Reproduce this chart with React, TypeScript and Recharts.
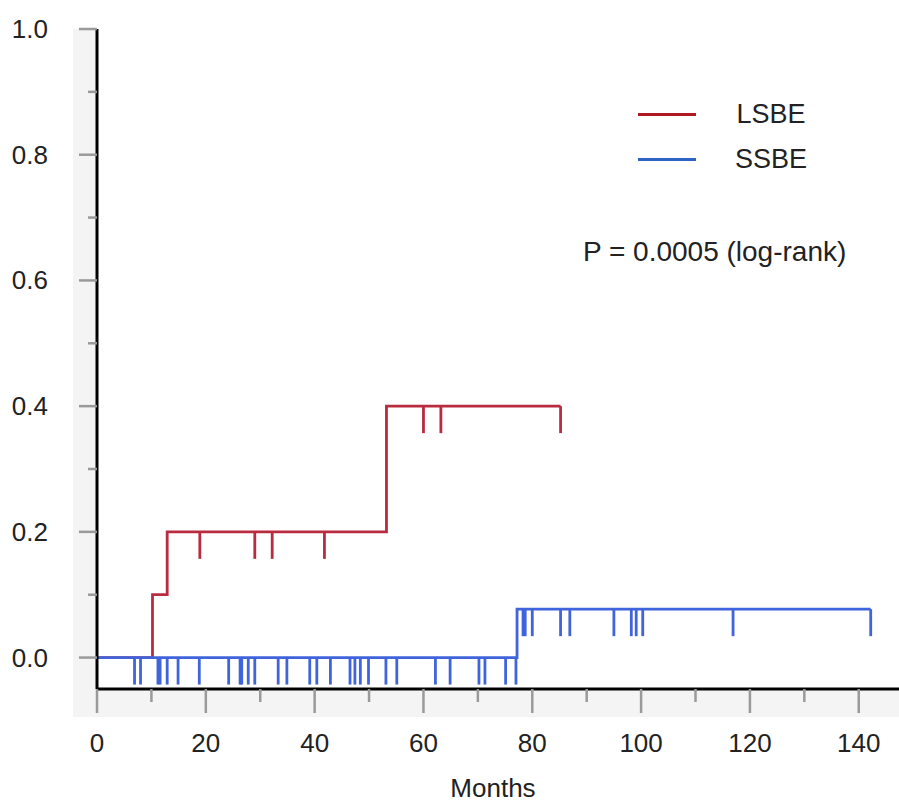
import { ComposedChart, Line, Scatter, XAxis, YAxis, ReferenceArea, Legend } from "recharts"

const monthTicks = [0, 10, 20, 30, 40, 50, 60, 70, 80, 90, 100, 110, 120, 130, 140]
const probTicks = [0, 0.1, 0.2, 0.3, 0.4, 0.5, 0.6, 0.7, 0.8, 0.9, 1.0]

// LSBE: step times (months) and cumulative incidence
const lsbeTimes = [0, 10.2, 12.9, 53.2, 85.2]
const lsbeValues = [0, 0.1, 0.2, 0.4, 0.4]
const lsbeCensored = [18.9, 29.0, 32.2, 41.8, 60.0, 63.2, 85.2]

// SSBE
const ssbeTimes = [0, 77.2, 142.2]
const ssbeValues = [0, 0.077, 0.077]
const ssbeCensored = [
  6.9, 8.0, 11.2, 11.6, 12.9, 14.9, 18.8, 24.2, 26.3, 26.6, 27.8, 29.0, 33.3, 34.9, 39.1, 40.4,
  42.9, 46.5, 47.4, 48.4, 49.9, 53.1, 55.1, 62.2, 64.9, 70.2, 71.3, 75.1, 77.0,
  78.3, 78.7, 80.0, 85.2, 86.9, 95.0, 98.2, 99.1, 100.3, 116.9, 142.2,
]

const FONT = "'Liberation Sans', Arial, sans-serif"
const RED = "#b92c40"
const BLUE = "#4064dc"
const LEGEND_RED = "#b01822"
const LEGEND_BLUE = "#2f63c6"

const toSteps = (times: number[], values: number[]) => times.map((t, i) => ({ t, v: values[i] }))

const valueAt = (times: number[], values: number[], t: number) => {
  let v = values[0]
  times.forEach((tt, i) => {
    if (tt <= t) v = values[i]
  })
  return v
}

const toMarks = (cens: number[], times: number[], values: number[]) =>
  cens.map((t) => ({ t, v: valueAt(times, values, t) }))

const lsbeData = toSteps(lsbeTimes, lsbeValues)
const ssbeData = toSteps(ssbeTimes, ssbeValues)
const lsbeMarks = toMarks(lsbeCensored, lsbeTimes, lsbeValues)
const ssbeMarks = toMarks(ssbeCensored, ssbeTimes, ssbeValues)

const YTick = ({ x, y, payload }: any) => {
  const major = Math.round(payload.value * 10) % 2 === 0
  return (
    <g>
      <line x1={x - (major ? 18 : 9)} x2={x} y1={y} y2={y} stroke="#9a9a9a" strokeWidth={2.5} />
      {major && (
        <text x={x - 49} y={y + 9} textAnchor="end" fontSize={26} fontFamily={FONT} fill="#222">
          {payload.value.toFixed(1)}
        </text>
      )}
    </g>
  )
}

const XTick = ({ x, y, payload }: any) => {
  const major = payload.value % 20 === 0
  return (
    <g>
      <line x1={x} x2={x} y1={y} y2={y + (major ? 24 : 13)} stroke="#9a9a9a" strokeWidth={2.5} />
      {major && (
        <text x={x} y={y + 63} textAnchor="middle" fontSize={26} fontFamily={FONT} fill="#222">
          {payload.value}
        </text>
      )}
    </g>
  )
}

const censorShape = (color: string) => (props: any) => (
  <line x1={props.cx} x2={props.cx} y1={props.cy} y2={props.cy + 27} stroke={color} strokeWidth={2.8} />
)

const LegendBox = () => {
  const rows = [
    { name: "LSBE", color: LEGEND_RED, top: 0 },
    { name: "SSBE", color: LEGEND_BLUE, top: 45 },
  ]
  return (
    <div style={{ position: "relative", width: 300, height: 180, fontFamily: FONT, color: "#222" }}>
      {rows.map((r) => (
        <div key={r.name}>
          <div style={{ position: "absolute", left: 55, top: r.top + 15, width: 58, height: 3, background: r.color }} />
          <div
            style={{
              position: "absolute",
              left: 188,
              top: r.top,
              transform: "translateX(-50%)",
              fontSize: 27,
              lineHeight: "32px",
            }}
          >
            {r.name}
          </div>
        </div>
      ))}
      <div style={{ position: "absolute", left: 0, top: 138, fontSize: 28, lineHeight: "32px", whiteSpace: "nowrap" }}>
        P = 0.0005 (log-rank)
      </div>
    </div>
  )
}

export default function App() {
  return (
    <div style={{ position: "absolute", left: 0, top: 0, width: 899, height: 803, background: "#fff" }}>
      <ComposedChart width={899} height={803} margin={{ top: 29, right: 0, bottom: 0, left: 0 }}>
        <ReferenceArea x1={-4.4} x2={147.4} y1={-0.0945} y2={-0.05} fill="#f4f4f4" fillOpacity={1} ifOverflow="visible" />
        <ReferenceArea x1={-4.4} x2={0} y1={-0.0945} y2={1.0} fill="#f4f4f4" fillOpacity={1} ifOverflow="visible" />
        <XAxis
          type="number"
          dataKey="t"
          domain={[0, 147.4]}
          allowDataOverflow
          ticks={monthTicks}
          tickSize={0}
          tickMargin={0}
          tickLine={false}
          tick={<XTick />}
          axisLine={{ stroke: "#000", strokeWidth: 3 }}
          height={114}
          label={(p: any) => (
            <text
              x={p.viewBox.x + p.viewBox.width / 2 - 5}
              y={797}
              textAnchor="middle"
              fontSize={26}
              fontFamily={FONT}
              fill="#222"
            >
              Months
            </text>
          )}
        />
        <YAxis
          type="number"
          dataKey="v"
          domain={[-0.05, 1.0]}
          allowDataOverflow
          ticks={probTicks}
          tickSize={0}
          tickMargin={0}
          tickLine={false}
          tick={<YTick />}
          axisLine={{ stroke: "#000", strokeWidth: 3 }}
          width={97}
        />
        <Legend
          layout="vertical"
          align="center"
          verticalAlign="middle"
          wrapperStyle={{ left: 583, top: 98, width: 300 }}
          content={() => <LegendBox />}
        />
        <Line
          data={lsbeData}
          dataKey="v"
          name="LSBE"
          type="stepAfter"
          stroke={RED}
          strokeWidth={2.8}
          dot={false}
          isAnimationActive={false}
        />
        <Scatter data={lsbeMarks} dataKey="v" legendType="none" shape={censorShape(RED)} isAnimationActive={false} />
        <Line
          data={ssbeData}
          dataKey="v"
          name="SSBE"
          type="stepAfter"
          stroke={BLUE}
          strokeWidth={2.8}
          dot={false}
          isAnimationActive={false}
        />
        <Scatter data={ssbeMarks} dataKey="v" legendType="none" shape={censorShape(BLUE)} isAnimationActive={false} />
      </ComposedChart>
    </div>
  )
}
